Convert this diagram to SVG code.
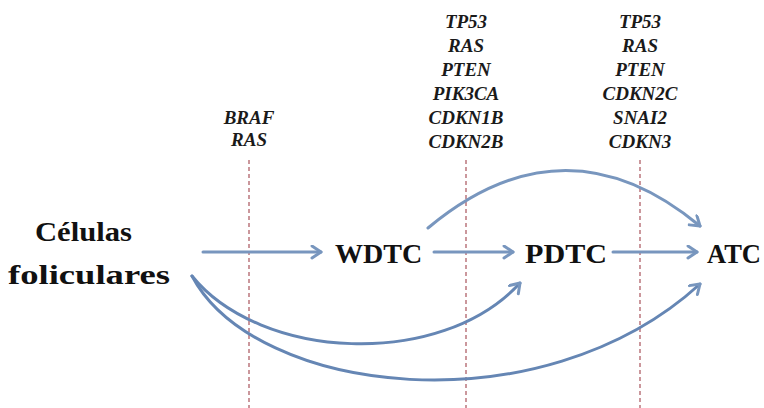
<svg xmlns="http://www.w3.org/2000/svg" width="764" height="408" viewBox="0 0 764 408">
<style>
.gene{font-family:"Liberation Serif","Times New Roman",serif;font-weight:bold;font-style:italic;font-size:19px;fill:#1a1a1a;text-anchor:middle}
.node{font-family:"Liberation Serif","Times New Roman",serif;font-weight:bold;font-size:28px;fill:#111}
.dash{stroke:#b06068;stroke-width:1.3;stroke-dasharray:4 3;fill:none}
.arr{stroke:#7896be;stroke-width:3;fill:none;stroke-linecap:round}
.cur{stroke:#6586b4;stroke-width:3;fill:none;stroke-linecap:round}
</style>
<defs>
<marker id="ah" markerUnits="userSpaceOnUse" markerWidth="16" markerHeight="16" refX="11" refY="7" orient="auto">
<path d="M2,1 L11,7 L2,13" fill="none" stroke="#7896be" stroke-width="3" stroke-linecap="round" stroke-linejoin="round"/>
</marker>
</defs>
<rect width="764" height="408" fill="#fff"/>
<g id="dividers">
<line class="dash" x1="249" y1="160" x2="249" y2="408"/>
<line class="dash" x1="466" y1="160" x2="466" y2="408"/>
<line class="dash" x1="640" y1="160" x2="640" y2="408"/>
</g>
<g id="genes1">
<text class="gene" x="249" y="124">BRAF</text>
<text class="gene" x="249" y="146">RAS</text>
</g>
<g id="genes2">
<text class="gene" x="466" y="28">TP53</text>
<text class="gene" x="466" y="52">RAS</text>
<text class="gene" x="466" y="76">PTEN</text>
<text class="gene" x="466" y="100">PIK3CA</text>
<text class="gene" x="466" y="124">CDKN1B</text>
<text class="gene" x="466" y="148">CDKN2B</text>
</g>
<g id="genes3">
<text class="gene" x="640" y="28">TP53</text>
<text class="gene" x="640" y="52">RAS</text>
<text class="gene" x="640" y="76">PTEN</text>
<text class="gene" x="640" y="100">CDKN2C</text>
<text class="gene" x="640" y="124">SNAI2</text>
<text class="gene" x="640" y="148">CDKN3</text>
</g>
<g id="connectors">
<line class="arr" x1="203" y1="252" x2="321" y2="252" marker-end="url(#ah)"/>
<line class="arr" x1="434" y1="252" x2="513" y2="252" marker-end="url(#ah)"/>
<line class="arr" x1="613" y1="252" x2="697" y2="252" marker-end="url(#ah)"/>
<path class="arr" d="M428,228 Q565,114 700,226" marker-end="url(#ah)"/>
<path class="cur" d="M192,276 C260,360 440,370 520,283" marker-end="url(#ah)"/>
<path class="cur" d="M192,276 C255,395 540,430 700,284" marker-end="url(#ah)"/>
</g>
<g id="celulas">
<text class="node" x="35" y="241" textLength="97" lengthAdjust="spacingAndGlyphs">Células</text>
<text class="node" x="8" y="284" textLength="162" lengthAdjust="spacingAndGlyphs">foliculares</text>
</g>
<g id="wdtc"><text class="node" x="335" y="263">WDTC</text></g>
<g id="pdtc"><text class="node" x="525" y="263" textLength="82" lengthAdjust="spacingAndGlyphs">PDTC</text></g>
<g id="atc"><text class="node" x="707" y="263" textLength="54" lengthAdjust="spacingAndGlyphs">ATC</text></g>
</svg>
